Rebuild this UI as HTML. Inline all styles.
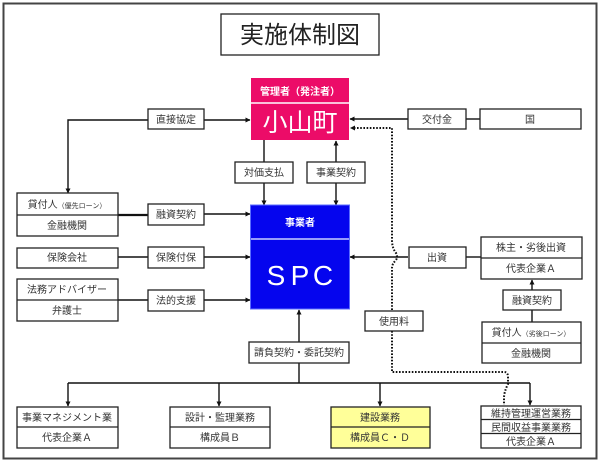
<!DOCTYPE html>
<html><head><meta charset="utf-8"><style>
html,body{margin:0;padding:0;background:#fff;}
svg{display:block;}
text{font-family:"Liberation Sans","Noto Sans CJK JP",sans-serif;}
</style></head><body>
<svg width="600" height="463" viewBox="0 0 600 463" xmlns="http://www.w3.org/2000/svg">
<defs>
<marker id="ah" viewBox="0 0 10 10" refX="9" refY="5" markerWidth="5" markerHeight="5" orient="auto-start-reverse" markerUnits="userSpaceOnUse">
<path d="M0,0 L10,5 L0,10 z" fill="#111"/>
</marker>
</defs>
<rect x="0" y="0" width="600" height="463" fill="#fff"/>
<rect x="3.5" y="3.5" width="593" height="455" fill="none" stroke="#444" stroke-width="2"/>

<!-- Title -->
<rect x="221" y="14" width="158" height="41" fill="#fff" stroke="#222" stroke-width="1.3"/>
<text x="300" y="43" font-size="24" text-anchor="middle" fill="#222">実施体制図</text>

<!-- connectors -->
<g stroke="#111" stroke-width="1.4" fill="none">
<!-- 直接協定 -->
<polyline points="148,120 68,120 68,193" marker-end="url(#ah)"/>
<line x1="204" y1="120" x2="250" y2="120" marker-end="url(#ah)"/>
<!-- 交付金 -->
<line x1="408" y1="119" x2="350" y2="119" marker-end="url(#ah)"/>
<line x1="466" y1="119" x2="481" y2="119"/>
<!-- 対価支払 -->
<line x1="264" y1="140" x2="264" y2="162"/>
<line x1="264" y1="183" x2="264" y2="205" marker-end="url(#ah)"/>
<!-- 事業契約 -->
<line x1="336" y1="162" x2="336" y2="141" marker-end="url(#ah)"/>
<line x1="336" y1="183" x2="336" y2="205" marker-end="url(#ah)"/>
<!-- left side -->
<line x1="118" y1="215" x2="148" y2="215" stroke-width="2.2"/>
<line x1="204" y1="214" x2="250" y2="214" marker-end="url(#ah)"/>
<line x1="118" y1="257" x2="148" y2="257"/>
<line x1="204" y1="257" x2="250" y2="257" marker-end="url(#ah)"/>
<line x1="118" y1="300" x2="148" y2="300"/>
<line x1="204" y1="300" x2="250" y2="300" marker-end="url(#ah)"/>
<!-- 出資 -->
<line x1="481" y1="257" x2="466" y2="257"/>
<line x1="408" y1="257" x2="350" y2="257" marker-end="url(#ah)"/>
<!-- 融資契約 right -->
<line x1="532" y1="290" x2="532" y2="280" marker-end="url(#ah)"/>
<line x1="532" y1="310" x2="532" y2="322"/>
<!-- 請負 -->
<line x1="299" y1="342" x2="299" y2="310" marker-end="url(#ah)"/>
<line x1="299" y1="363" x2="299" y2="383"/>
<line x1="68" y1="383" x2="530" y2="383"/>
<line x1="68" y1="383" x2="68" y2="406" marker-end="url(#ah)"/>
<line x1="219" y1="383" x2="219" y2="406" marker-end="url(#ah)"/>
<line x1="380" y1="383" x2="380" y2="406" marker-end="url(#ah)"/>
<line x1="530" y1="383" x2="530" y2="405" marker-end="url(#ah)"/>
</g>

<!-- dotted -->
<g stroke="#111" stroke-width="2" fill="none" stroke-dasharray="1.6,1.6">
<path d="M392,310 L392,268 Q392,264 396,260 Q398,257 396,253 Q392,248 392,240 L392,128 L352,128"/>
<path d="M392,331 L392,372 L504,372 Q508,372 508,377 L508,384 Q504,392 504,398 L504,405"/>
</g>
<path d="M350,128 L355,125.5 L355,130.5 z" fill="#111"/>

<!-- 小山町 -->
<rect x="251" y="78" width="98" height="62" fill="#ec0c68"/>
<line x1="251" y1="103" x2="349" y2="103" stroke="#fff" stroke-width="1.5"/>
<text x="300" y="95" font-size="10" font-weight="bold" text-anchor="middle" fill="#fff">管理者（発注者）</text>
<text x="300" y="131" font-size="25" text-anchor="middle" fill="#fff">小山町</text>

<!-- SPC -->
<rect x="250.5" y="205" width="99" height="104" fill="#0505ee" stroke="#5a6cff" stroke-width="1"/>
<line x1="251" y1="239" x2="349" y2="239" stroke="#c8d0ff" stroke-width="1.5"/>
<text x="300" y="226" font-size="10" font-weight="bold" text-anchor="middle" fill="#fff">事業者</text>
<text x="276" y="285" font-size="28" text-anchor="middle" fill="#fff">S</text>
<text x="300" y="285" font-size="28" text-anchor="middle" fill="#fff">P</text>
<text x="323" y="285" font-size="28" text-anchor="middle" fill="#fff">C</text>

<!-- small label boxes -->
<g stroke="#222" stroke-width="1.3" fill="#fff">
<rect x="148" y="109" width="56" height="20"/>
<rect x="408" y="109" width="58" height="20"/>
<rect x="480" y="109" width="101" height="20"/>
<rect x="235" y="162" width="58" height="21"/>
<rect x="307" y="162" width="58" height="21"/>
<rect x="148" y="204" width="56" height="21"/>
<rect x="148" y="247" width="56" height="21"/>
<rect x="148" y="290" width="56" height="21"/>
<rect x="409" y="247" width="57" height="21"/>
<rect x="503" y="290" width="58" height="20"/>
<rect x="365" y="311" width="58" height="20"/>
<rect x="249" y="342" width="100" height="21"/>
<!-- entity boxes -->
<rect x="17" y="193" width="101" height="43"/>
<rect x="17" y="248" width="101" height="20"/>
<rect x="17" y="279" width="101" height="42"/>
<rect x="481" y="237" width="101" height="42"/>
<rect x="482" y="322" width="99" height="41"/>
<rect x="17" y="407" width="101" height="41"/>
<rect x="170" y="407" width="100" height="41"/>
<rect x="331" y="407" width="99" height="41" fill="#ffff99"/>
<rect x="481" y="406" width="100" height="42"/>
</g>
<g stroke="#222" stroke-width="1.3">
<line x1="17" y1="215" x2="118" y2="215"/>
<line x1="17" y1="300" x2="118" y2="300"/>
<line x1="481" y1="258" x2="582" y2="258"/>
<line x1="482" y1="343" x2="581" y2="343"/>
<line x1="17" y1="427" x2="118" y2="427"/>
<line x1="170" y1="427" x2="270" y2="427"/>
<line x1="331" y1="427" x2="430" y2="427"/>
<line x1="481" y1="419.5" x2="581" y2="419.5"/>
<line x1="481" y1="433.5" x2="581" y2="433.5"/>
</g>

<g font-size="10" fill="#333" text-anchor="middle">
<text x="176" y="123">直接協定</text>
<text x="437" y="123">交付金</text>
<text x="530" y="123">国</text>
<text x="264" y="176">対価支払</text>
<text x="336" y="176">事業契約</text>
<text x="176" y="218">融資契約</text>
<text x="176" y="261">保険付保</text>
<text x="176" y="304">法的支援</text>
<text x="437" y="261">出資</text>
<text x="532" y="304">融資契約</text>
<text x="394" y="325">使用料</text>
<text x="299" y="356">請負契約・委託契約</text>

<text x="67" y="208"><tspan>貸付人</tspan><tspan font-size="7">（優先ローン）</tspan></text>
<text x="67" y="229">金融機関</text>
<text x="67" y="261">保険会社</text>
<text x="67" y="293">法務アドバイザー</text>
<text x="67" y="314">弁護士</text>
<text x="531" y="251">株主・劣後出資</text>
<text x="531" y="272">代表企業Ａ</text>
<text x="531" y="336"><tspan>貸付人</tspan><tspan font-size="7">（劣後ローン）</tspan></text>
<text x="531" y="357">金融機関</text>
<text x="67" y="421">事業マネジメント業</text>
<text x="67" y="441">代表企業Ａ</text>
<text x="220" y="421">設計・監理業務</text>
<text x="220" y="441">構成員Ｂ</text>
<text x="380" y="421">建設業務</text>
<text x="380" y="441">構成員Ｃ・Ｄ</text>
<text x="531" y="417">維持管理運営業務</text>
<text x="531" y="431">民間収益事業業務</text>
<text x="531" y="445">代表企業Ａ</text>
</g>
</svg>
</body></html>
